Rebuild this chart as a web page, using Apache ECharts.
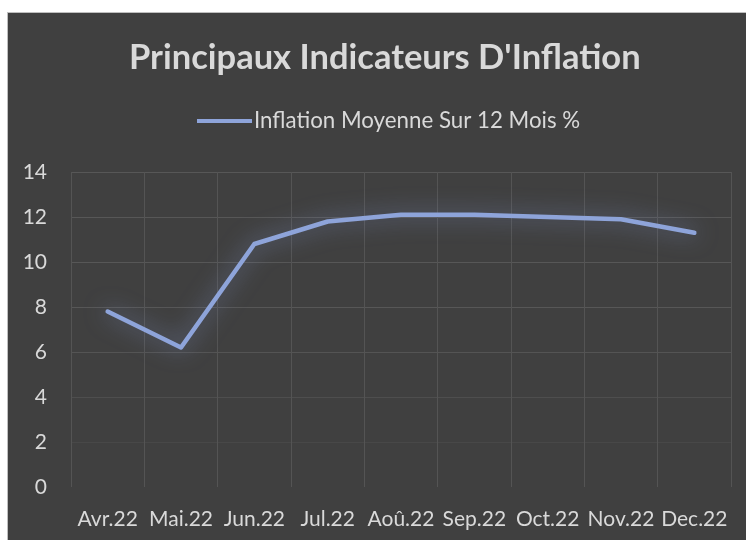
<!DOCTYPE html>
<html>
<head>
<meta charset="utf-8">
<script src="https://cdn.jsdelivr.net/npm/echarts@6/dist/echarts.min.js"></script>
<style>
html,body{margin:0;padding:0;background:#ffffff;}
#wrap{position:absolute;left:7px;top:12px;width:739px;height:528px;background:#404040;border-left:1px solid #bfbfbf;border-top:1px solid #bfbfbf;box-sizing:border-box;}
#chart{position:absolute;left:0;top:0;width:746px;height:540px;}
</style>
</head>
<body>
<div id="wrap"></div>
<div id="chart"></div>
<script>
const categories = ['Avr.22','Mai.22','Jun.22','Jul.22','Aoû.22','Sep.22','Oct.22','Nov.22','Dec.22'];
const inflation = [7.8, 6.2, 10.8, 11.8, 12.1, 12.1, 12.0, 11.9, 11.3];
const seriesName = 'Inflation Moyenne Sur 12 Mois %';
const titleText = "Principaux Indicateurs D'Inflation";

const chart = echarts.init(document.getElementById('chart'), null, {renderer:'canvas'});
chart.setOption({
  backgroundColor: 'transparent',
  title: {
    text: titleText,
    left: 124,
    top: 35,
    textStyle: {color:'#d9d9d9', fontFamily:'Lato', fontWeight:'bold', fontSize:34.5}
  },
  legend: {
    top: 105,
    left: 192,
    icon: 'rect',
    itemWidth: 55,
    itemHeight: 4,
    itemGap: 10,
    textStyle: {color:'#d9d9d9', fontFamily:'Lato', fontSize:22.3, padding:[0,0,0,-3]},
    data: [seriesName]
  },
  grid: {left:71, right:15, top:172, bottom:53, containLabel:false},
  xAxis: {
    type: 'category',
    data: categories,
    boundaryGap: true,
    axisLine: {show:false},
    axisTick: {show:false},
    axisLabel: {color:'#d9d9d9', fontFamily:'Lato', fontSize:21, margin:22, interval:0},
    splitLine: {show:true, interval:0, lineStyle:{color:'#545454', width:1}}
  },
  yAxis: {
    type: 'value',
    min: 0, max: 14, interval: 2,
    axisLine: {show:false},
    axisTick: {show:false},
    axisLabel: {color:'#d9d9d9', fontFamily:'Lato', fontSize:21, margin:24},
    splitLine: {show:true, lineStyle:{color:['#404040','#484848','#4e4e4e','#545454','#575757','#575757','#575757','#575757'], width:1}}
  },
  series: [{
    name: seriesName,
    type: 'line',
    data: inflation,
    symbol: 'none',
    color: '#8ea4da',
    lineStyle: {width:4.5, color:'#8ea4da', cap:'round', join:'round',
      shadowBlur:22, shadowColor:'rgba(140,162,222,0.65)'}
  }]
});
</script>
</body>
</html>
